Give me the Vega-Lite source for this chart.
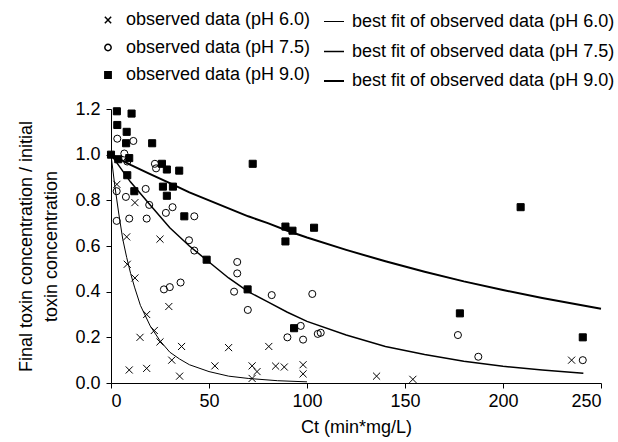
{
  "$schema": "https://vega.github.io/schema/vega-lite/v6.json",
  "autosize": {"type": "none"},
  "width": 490,
  "height": 274,
  "padding": {"left": 111, "top": 109, "right": 17, "bottom": 59},
  "background": "white",
  "config": {
    "font": "Liberation Sans",
    "view": {"stroke": null},
    "axis": {
      "grid": false,
      "labelFont": "Liberation Sans",
      "labelFontSize": 18,
      "labelColor": "black",
      "titleFont": "Liberation Sans",
      "titleFontSize": 18,
      "titleFontWeight": "normal",
      "titleColor": "black",
      "domainColor": "black",
      "tickColor": "black",
      "tickSize": 5
    },
    "legend": {
      "labelFont": "Liberation Sans",
      "labelFontSize": 18,
      "labelColor": "black",
      "labelLimit": 400
    }
  },
  "datasets": {
    "obs": [
      {"series": "observed data (pH 6.0)", "ct": 3, "y": 0.87},
      {"series": "observed data (pH 6.0)", "ct": 8, "y": 0.64},
      {"series": "observed data (pH 6.0)", "ct": 8.3, "y": 0.52},
      {"series": "observed data (pH 6.0)", "ct": 12.2, "y": 0.46},
      {"series": "observed data (pH 6.0)", "ct": 12.2, "y": 0.79},
      {"series": "observed data (pH 6.0)", "ct": 9.3, "y": 0.057},
      {"series": "observed data (pH 6.0)", "ct": 18.2, "y": 0.064},
      {"series": "observed data (pH 6.0)", "ct": 18.2, "y": 0.3},
      {"series": "observed data (pH 6.0)", "ct": 14.8, "y": 0.2},
      {"series": "observed data (pH 6.0)", "ct": 22.1, "y": 0.23},
      {"series": "observed data (pH 6.0)", "ct": 25, "y": 0.18},
      {"series": "observed data (pH 6.0)", "ct": 25, "y": 0.63},
      {"series": "observed data (pH 6.0)", "ct": 29.5, "y": 0.335},
      {"series": "observed data (pH 6.0)", "ct": 31, "y": 0.1},
      {"series": "observed data (pH 6.0)", "ct": 36, "y": 0.16},
      {"series": "observed data (pH 6.0)", "ct": 35, "y": 0.03},
      {"series": "observed data (pH 6.0)", "ct": 53, "y": 0.075},
      {"series": "observed data (pH 6.0)", "ct": 60, "y": 0.155},
      {"series": "observed data (pH 6.0)", "ct": 72, "y": 0.075},
      {"series": "observed data (pH 6.0)", "ct": 74.5, "y": 0.05},
      {"series": "observed data (pH 6.0)", "ct": 72, "y": 0.02},
      {"series": "observed data (pH 6.0)", "ct": 80.5, "y": 0.16},
      {"series": "observed data (pH 6.0)", "ct": 84, "y": 0.074},
      {"series": "observed data (pH 6.0)", "ct": 88.4, "y": 0.07},
      {"series": "observed data (pH 6.0)", "ct": 98, "y": 0.08},
      {"series": "observed data (pH 6.0)", "ct": 98, "y": 0.04},
      {"series": "observed data (pH 6.0)", "ct": 135.5, "y": 0.03},
      {"series": "observed data (pH 6.0)", "ct": 154, "y": 0.016},
      {"series": "observed data (pH 6.0)", "ct": 235, "y": 0.1},
      {"series": "observed data (pH 7.5)", "ct": 3.2, "y": 1.07},
      {"series": "observed data (pH 7.5)", "ct": 11.4, "y": 1.06},
      {"series": "observed data (pH 7.5)", "ct": 6.8, "y": 1.005},
      {"series": "observed data (pH 7.5)", "ct": 8.3, "y": 0.97},
      {"series": "observed data (pH 7.5)", "ct": 2.9, "y": 0.84},
      {"series": "observed data (pH 7.5)", "ct": 7.6, "y": 0.815},
      {"series": "observed data (pH 7.5)", "ct": 17.7, "y": 0.85},
      {"series": "observed data (pH 7.5)", "ct": 19.5, "y": 0.78},
      {"series": "observed data (pH 7.5)", "ct": 18.2, "y": 0.72},
      {"series": "observed data (pH 7.5)", "ct": 9.3, "y": 0.72},
      {"series": "observed data (pH 7.5)", "ct": 2.9, "y": 0.71},
      {"series": "observed data (pH 7.5)", "ct": 22.4, "y": 0.96},
      {"series": "observed data (pH 7.5)", "ct": 23, "y": 0.94},
      {"series": "observed data (pH 7.5)", "ct": 28, "y": 0.745},
      {"series": "observed data (pH 7.5)", "ct": 31.4, "y": 0.77},
      {"series": "observed data (pH 7.5)", "ct": 42.5, "y": 0.73},
      {"series": "observed data (pH 7.5)", "ct": 39.8, "y": 0.625},
      {"series": "observed data (pH 7.5)", "ct": 42.5, "y": 0.58},
      {"series": "observed data (pH 7.5)", "ct": 27, "y": 0.41},
      {"series": "observed data (pH 7.5)", "ct": 30, "y": 0.42},
      {"series": "observed data (pH 7.5)", "ct": 35.5, "y": 0.44},
      {"series": "observed data (pH 7.5)", "ct": 64.4, "y": 0.53},
      {"series": "observed data (pH 7.5)", "ct": 64.4, "y": 0.48},
      {"series": "observed data (pH 7.5)", "ct": 62.8, "y": 0.4},
      {"series": "observed data (pH 7.5)", "ct": 69.8, "y": 0.32},
      {"series": "observed data (pH 7.5)", "ct": 82, "y": 0.385},
      {"series": "observed data (pH 7.5)", "ct": 102.7, "y": 0.39},
      {"series": "observed data (pH 7.5)", "ct": 96.8, "y": 0.25},
      {"series": "observed data (pH 7.5)", "ct": 90, "y": 0.2},
      {"series": "observed data (pH 7.5)", "ct": 98, "y": 0.19},
      {"series": "observed data (pH 7.5)", "ct": 105.5, "y": 0.215},
      {"series": "observed data (pH 7.5)", "ct": 107, "y": 0.22},
      {"series": "observed data (pH 7.5)", "ct": 177, "y": 0.21},
      {"series": "observed data (pH 7.5)", "ct": 187.4, "y": 0.115},
      {"series": "observed data (pH 7.5)", "ct": 240.7, "y": 0.1},
      {"series": "observed data (pH 9.0)", "ct": 0, "y": 1.0},
      {"series": "observed data (pH 9.0)", "ct": 3, "y": 1.19},
      {"series": "observed data (pH 9.0)", "ct": 10.5, "y": 1.18},
      {"series": "observed data (pH 9.0)", "ct": 3.2, "y": 1.13},
      {"series": "observed data (pH 9.0)", "ct": 8, "y": 1.1},
      {"series": "observed data (pH 9.0)", "ct": 7.7, "y": 1.05},
      {"series": "observed data (pH 9.0)", "ct": 3.7, "y": 0.98},
      {"series": "observed data (pH 9.0)", "ct": 9.3, "y": 0.985},
      {"series": "observed data (pH 9.0)", "ct": 8.3, "y": 0.91},
      {"series": "observed data (pH 9.0)", "ct": 11.9, "y": 0.84},
      {"series": "observed data (pH 9.0)", "ct": 21, "y": 1.05},
      {"series": "observed data (pH 9.0)", "ct": 26, "y": 0.96},
      {"series": "observed data (pH 9.0)", "ct": 28.5, "y": 0.935},
      {"series": "observed data (pH 9.0)", "ct": 34.8, "y": 0.93},
      {"series": "observed data (pH 9.0)", "ct": 26.5, "y": 0.86},
      {"series": "observed data (pH 9.0)", "ct": 31.6, "y": 0.86},
      {"series": "observed data (pH 9.0)", "ct": 28.5, "y": 0.82},
      {"series": "observed data (pH 9.0)", "ct": 37.4, "y": 0.73},
      {"series": "observed data (pH 9.0)", "ct": 48.8, "y": 0.54},
      {"series": "observed data (pH 9.0)", "ct": 69.7, "y": 0.41},
      {"series": "observed data (pH 9.0)", "ct": 72.3, "y": 0.96},
      {"series": "observed data (pH 9.0)", "ct": 89, "y": 0.685},
      {"series": "observed data (pH 9.0)", "ct": 92.6, "y": 0.667},
      {"series": "observed data (pH 9.0)", "ct": 89, "y": 0.62},
      {"series": "observed data (pH 9.0)", "ct": 103.6, "y": 0.68},
      {"series": "observed data (pH 9.0)", "ct": 93.4, "y": 0.24},
      {"series": "observed data (pH 9.0)", "ct": 178, "y": 0.305},
      {"series": "observed data (pH 9.0)", "ct": 209, "y": 0.77},
      {"series": "observed data (pH 9.0)", "ct": 240.7, "y": 0.2}
    ],
    "fit": [
      {"fit": "best fit of observed data (pH 6.0)", "ct": 0, "y": 1.0},
      {"fit": "best fit of observed data (pH 6.0)", "ct": 2, "y": 0.86},
      {"fit": "best fit of observed data (pH 6.0)", "ct": 4, "y": 0.74},
      {"fit": "best fit of observed data (pH 6.0)", "ct": 6, "y": 0.63},
      {"fit": "best fit of observed data (pH 6.0)", "ct": 8, "y": 0.55},
      {"fit": "best fit of observed data (pH 6.0)", "ct": 10, "y": 0.48},
      {"fit": "best fit of observed data (pH 6.0)", "ct": 12, "y": 0.42},
      {"fit": "best fit of observed data (pH 6.0)", "ct": 15, "y": 0.34},
      {"fit": "best fit of observed data (pH 6.0)", "ct": 20, "y": 0.25},
      {"fit": "best fit of observed data (pH 6.0)", "ct": 25, "y": 0.185},
      {"fit": "best fit of observed data (pH 6.0)", "ct": 30, "y": 0.135},
      {"fit": "best fit of observed data (pH 6.0)", "ct": 35, "y": 0.105},
      {"fit": "best fit of observed data (pH 6.0)", "ct": 40, "y": 0.08},
      {"fit": "best fit of observed data (pH 6.0)", "ct": 50, "y": 0.05},
      {"fit": "best fit of observed data (pH 6.0)", "ct": 60, "y": 0.03},
      {"fit": "best fit of observed data (pH 6.0)", "ct": 70, "y": 0.02},
      {"fit": "best fit of observed data (pH 6.0)", "ct": 85, "y": 0.01},
      {"fit": "best fit of observed data (pH 6.0)", "ct": 100, "y": 0.005},
      {"fit": "best fit of observed data (pH 7.5)", "ct": 0, "y": 1.0},
      {"fit": "best fit of observed data (pH 7.5)", "ct": 10, "y": 0.88},
      {"fit": "best fit of observed data (pH 7.5)", "ct": 20, "y": 0.78},
      {"fit": "best fit of observed data (pH 7.5)", "ct": 30, "y": 0.68},
      {"fit": "best fit of observed data (pH 7.5)", "ct": 40, "y": 0.6},
      {"fit": "best fit of observed data (pH 7.5)", "ct": 50, "y": 0.53},
      {"fit": "best fit of observed data (pH 7.5)", "ct": 60, "y": 0.46},
      {"fit": "best fit of observed data (pH 7.5)", "ct": 70, "y": 0.4},
      {"fit": "best fit of observed data (pH 7.5)", "ct": 80, "y": 0.355},
      {"fit": "best fit of observed data (pH 7.5)", "ct": 90, "y": 0.31},
      {"fit": "best fit of observed data (pH 7.5)", "ct": 100, "y": 0.27},
      {"fit": "best fit of observed data (pH 7.5)", "ct": 120, "y": 0.21},
      {"fit": "best fit of observed data (pH 7.5)", "ct": 140, "y": 0.16},
      {"fit": "best fit of observed data (pH 7.5)", "ct": 160, "y": 0.125},
      {"fit": "best fit of observed data (pH 7.5)", "ct": 180, "y": 0.095},
      {"fit": "best fit of observed data (pH 7.5)", "ct": 200, "y": 0.073},
      {"fit": "best fit of observed data (pH 7.5)", "ct": 220, "y": 0.057},
      {"fit": "best fit of observed data (pH 7.5)", "ct": 241, "y": 0.043},
      {"fit": "best fit of observed data (pH 9.0)", "ct": 0, "y": 1.0},
      {"fit": "best fit of observed data (pH 9.0)", "ct": 10, "y": 0.955},
      {"fit": "best fit of observed data (pH 9.0)", "ct": 20, "y": 0.915},
      {"fit": "best fit of observed data (pH 9.0)", "ct": 30, "y": 0.875},
      {"fit": "best fit of observed data (pH 9.0)", "ct": 40, "y": 0.835},
      {"fit": "best fit of observed data (pH 9.0)", "ct": 50, "y": 0.8},
      {"fit": "best fit of observed data (pH 9.0)", "ct": 60, "y": 0.765},
      {"fit": "best fit of observed data (pH 9.0)", "ct": 70, "y": 0.73},
      {"fit": "best fit of observed data (pH 9.0)", "ct": 80, "y": 0.7},
      {"fit": "best fit of observed data (pH 9.0)", "ct": 90, "y": 0.667},
      {"fit": "best fit of observed data (pH 9.0)", "ct": 100, "y": 0.637},
      {"fit": "best fit of observed data (pH 9.0)", "ct": 120, "y": 0.583},
      {"fit": "best fit of observed data (pH 9.0)", "ct": 140, "y": 0.533},
      {"fit": "best fit of observed data (pH 9.0)", "ct": 160, "y": 0.487},
      {"fit": "best fit of observed data (pH 9.0)", "ct": 180, "y": 0.445},
      {"fit": "best fit of observed data (pH 9.0)", "ct": 200, "y": 0.407},
      {"fit": "best fit of observed data (pH 9.0)", "ct": 220, "y": 0.372},
      {"fit": "best fit of observed data (pH 9.0)", "ct": 250, "y": 0.325}
    ]
  },
  "encoding": {
    "x": {
      "field": "ct", "type": "quantitative",
      "scale": {"domain": [0, 250], "nice": false},
      "axis": {"values": [0, 50, 100, 150, 200, 250], "title": "Ct (min*mg/L)", "labelPadding": 4, "titlePadding": 8}
    },
    "y": {
      "field": "y", "type": "quantitative",
      "scale": {"domain": [0, 1.2], "nice": false},
      "axis": {"values": [0, 0.2, 0.4, 0.6, 0.8, 1.0, 1.2], "format": ".1f", "labelPadding": 6,
               "title": ["Final toxin concentration / initial", "toxin concentration"], "titleLineHeight": 25, "titlePadding": 14}
    }
  },
  "layer": [
    {
      "data": {"name": "fit"},
      "mark": {"type": "line", "stroke": "black", "interpolate": "linear"},
      "encoding": {
        "strokeWidth": {
          "field": "fit", "type": "nominal",
          "scale": {"range": [1, 2, 3.5]},
          "legend": {"orient": "none", "legendX": 212, "legendY": -98, "title": null, "symbolType": "stroke", "symbolSize": 400, "labelOffset": 7, "rowPadding": 9.5,
                     "encode": {"symbols": {"update": {"stroke": {"value": "black"}}}}}
        }
      }
    },
    {
      "data": {"name": "obs"},
      "mark": {"type": "point", "stroke": "black", "strokeWidth": 1, "opacity": 1, "size": 50},
      "encoding": {
        "shape": {
          "field": "series", "type": "nominal",
          "scale": {"range": ["M-1,-1L1,1M-1,1L1,-1", "circle", "square"]},
          "legend": {"orient": "none", "legendX": -12, "legendY": -98, "title": null, "symbolSize": 40, "labelOffset": 9, "rowPadding": 9.5,
                     "encode": {"symbols": {"update": {"stroke": {"value": "black"}, "strokeWidth": {"value": 1}}}}}
        },
        "fill": {
          "field": "series", "type": "nominal",
          "scale": {"range": ["transparent", "transparent", "black"]}
        }
      }
    }
  ]
}
